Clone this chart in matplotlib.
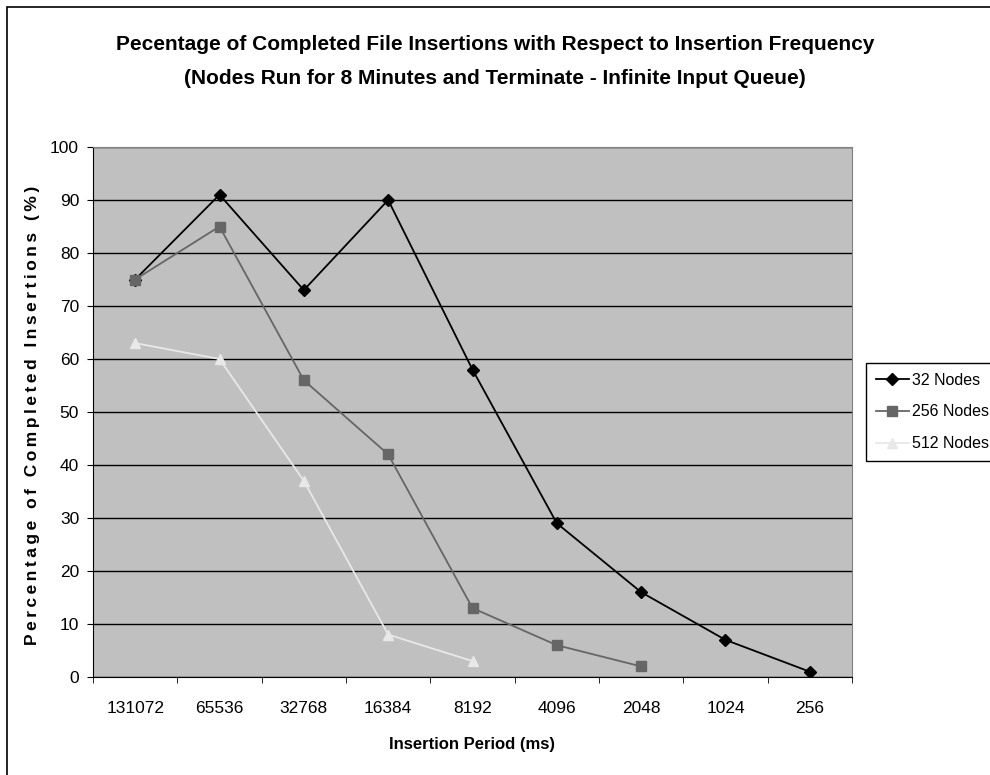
import numpy as np
import matplotlib
matplotlib.use('Agg')
import matplotlib.pyplot as plt
from matplotlib.patches import Rectangle

periodos = ['131072', '65536', '32768', '16384', '8192', '4096', '2048', '1024', '256']
nos_32 = [75, 91, 73, 90, 58, 29, 16, 7, 1]
nos_256 = [75, 85, 56, 42, 13, 6, 2]
nos_512 = [63, 60, 37, 8, 3]
rotulos_y = list(range(0, 101, 10))

fonte = ['Liberation Sans', 'DejaVu Sans']


def espacado(texto, sep='\u2009'):
    # letras afastadas, como no rótulo original
    return sep.join(texto)


fig = plt.figure(figsize=(9.9, 7.75), dpi=100)
ax = fig.add_axes([93 / 990, 98 / 775, 759 / 990, 530 / 775])
ax.set_facecolor('#c0c0c0')

x = np.arange(len(periodos))
ax.plot(x[:len(nos_32)], nos_32, color='black', lw=1.3, marker='D', ms=6.5,
        label='32 Nodes')
ax.plot(x[:len(nos_256)], nos_256, color='#666666', lw=1.3, marker='s', ms=6.5,
        label='256 Nodes')
ax.plot(x[:len(nos_512)], nos_512, color='#e8e8e8', lw=1.3, marker='^', ms=7,
        label='512 Nodes')

ax.set_xlim(-0.5, len(periodos) - 0.5)
ax.set_ylim(0, 100)
ax.set_yticks(rotulos_y)
ax.yaxis.grid(True, color='black', lw=1)
ax.set_axisbelow(True)

# marcas do eixo x entre as categorias
ax.set_xticks(x)
ax.set_xticklabels(periodos, fontfamily=fonte, fontsize=12.5)
ax.set_xticks(np.arange(len(periodos) + 1) - 0.5, minor=True)
ax.tick_params(axis='x', which='major', length=0, pad=17)
ax.tick_params(axis='x', which='minor', length=4, direction='out', color='black')
ax.tick_params(axis='y', length=4, direction='out', pad=6)
for lbl in ax.get_yticklabels():
    lbl.set_fontfamily(fonte)
    lbl.set_fontsize(12.5)

for lado in ['top', 'right']:
    ax.spines[lado].set_color('#808080')
ax.spines['left'].set_color('black')
ax.spines['bottom'].set_color('black')

fig.text(472 / 990, 1 - 745 / 775, 'Insertion Period (ms)',
         ha='center', va='center', fontfamily=fonte, fontweight='bold',
         fontsize=12)
fig.text(33 / 990, 1 - 415 / 775, espacado('Percentage of Completed Insertions (%)'),
         rotation=90, ha='center', va='center', fontfamily=fonte,
         fontweight='bold', fontsize=12.5)

fig.text(0.5, 1 - 45 / 775,
         'Pecentage of Completed File Insertions with Respect to Insertion Frequency',
         ha='center', va='center', fontfamily=fonte, fontweight='bold', fontsize=15)
fig.text(0.5, 1 - 79 / 775,
         '(Nodes Run for 8 Minutes and Terminate - Infinite Input Queue)',
         ha='center', va='center', fontfamily=fonte, fontweight='bold', fontsize=15)

leg = ax.legend(loc='upper left', bbox_to_anchor=(866 / 990, 1 - 363 / 775),
                bbox_transform=fig.transFigure, borderaxespad=0, fancybox=False,
                edgecolor='black', framealpha=1, handlelength=2.1,
                labelspacing=1.05, handletextpad=0.15, borderpad=0.6,
                prop={'family': fonte, 'size': 11.5})
leg.get_frame().set_linewidth(1)

# moldura em volta do gráfico
fig.patches.append(Rectangle((7 / 990, -0.02), 1.0, 1 - 7 / 775 + 0.02,
                             transform=fig.transFigure, fill=False,
                             edgecolor='black', lw=1.2))

fig.savefig('out.png', dpi=100)
